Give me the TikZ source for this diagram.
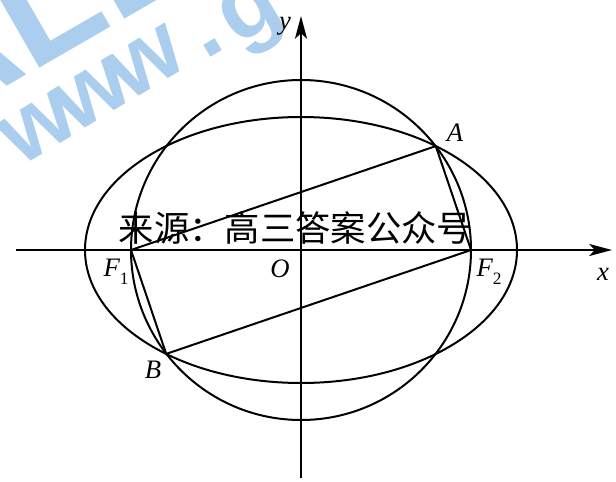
\documentclass[tikz,border=0pt]{standalone}
\usepackage{fontspec}
\newfontfamily\cjk{Noto Sans CJK SC}
\newfontfamily\wmfont{Liberation Sans}
\newfontfamily\labfont{Liberation Serif}
\usetikzlibrary{arrows.meta}
\definecolor{wmblue}{RGB}{172,206,238}
\tikzset{
  curve/.style={line width=1.5pt, black},
  axis/.style={line width=1.7pt, black, -{Stealth[length=17pt,width=9pt,inset=4pt]}},
  lab/.style={inner sep=0pt, font=\labfont\itshape\fontsize{20pt}{20pt}\selectfont},
  wm/.style={text=wmblue, inner sep=0pt, anchor=base, font=\wmfont\bfseries\fontsize{70pt}{70pt}\selectfont, rotate=31},
  wmbig/.style={text=wmblue, inner sep=0pt, anchor=base west, font=\wmfont\bfseries\fontsize{120pt}{120pt}\selectfont, rotate=30}
}
\newcommand{\sub}[1]{\raisebox{-0.3em}{\upshape\fontsize{13pt}{13pt}\selectfont #1}}
\begin{document}
\begin{tikzpicture}[x=0.75pt,y=-0.75pt]
\useasboundingbox (0,0) rectangle (616,481);
\begin{scope}
\clip (0,0) rectangle (616,481);
\node[wmbig] (big) at (-69.5,131) {ALB};
\node[wm] (w1) at (52,149) {w};
\node[wm] (w2) at (106,116) {w};
\node[wm] (w3) at (160,84) {w};
\node[wm] (dot) at (217,54) {.};
\node[wm] (g) at (262,32) {g};
\end{scope}
\coordinate (O) at (301,250);
\coordinate (F1) at (131,250);
\coordinate (F2) at (471,250);
\coordinate (A) at (435.8,146.1);
\coordinate (B) at (166.2,353.9);
\coordinate (xs) at (16,250);
\coordinate (xe) at (612,250);
\coordinate (ys) at (301,478);
\coordinate (ye) at (301,16);
\draw[curve] (O) ellipse [x radius=162pt, y radius=99.75pt];
\draw[curve] (O) circle [radius=127.5pt];
\draw[axis] (xs) -- (xe);
\draw[axis] (ys) -- (ye);
\draw[curve, line join=round] (A) -- (F1) -- (B) -- (F2) -- cycle;
\node[font=\cjk\fontsize{26.5pt}{26.5pt}\selectfont, inner sep=0pt] (src) at (295.5,228) {来源：高三答案公众号};
\node[lab] (lA) at (455,133) {A};
\node[lab] (lB) at (153,370) {B};
\node[lab] (lF1) at (116,272) {F\sub{1}};
\node[lab] (lF2) at (489,272) {F\sub{2}};
\node[lab] (lO) at (280,269) {O};
\node[lab] (lx) at (603,274) {x};
\node[lab] (ly) at (285,26) {y};
\end{tikzpicture}
\end{document}
